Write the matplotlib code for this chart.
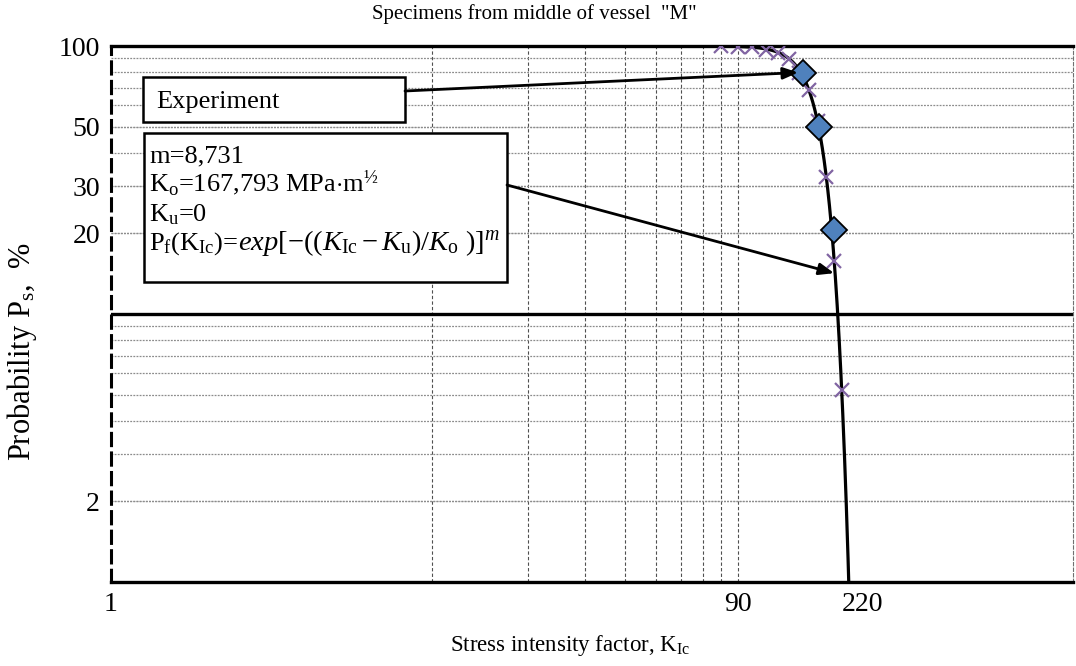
import matplotlib.pyplot as plt
import numpy as np
from matplotlib.patches import Rectangle
from matplotlib.ticker import NullFormatter

plt.rcParams['font.family'] = ['Liberation Serif', 'DejaVu Serif']
plt.rcParams['mathtext.fontset'] = 'custom'
plt.rcParams['mathtext.rm'] = 'Liberation Serif'
plt.rcParams['mathtext.it'] = 'Liberation Serif:italic'
plt.rcParams['mathtext.bf'] = 'Liberation Serif:bold'

# experiment points (median ranks)
k_exp = [144, 161, 180]
ps_exp = [79.4, 50.0, 20.6]

# points along the fitted distribution
k_pts = [80, 90, 100, 110, 120, 130, 140, 150, 160, 170, 180, 190]
ps_pts = [99.6, 99.3, 98.8, 97.0, 94.2, 89.2, 79.0, 68.5, 52.5, 32.4, 15.8, 5.2]

# Weibull parameters from the chart
m = 8.731
k0 = 167.793
ku = 0

x_ticks = [1, 90, 220]
y_ticks = [2, 20, 30, 50, 100]
x_grid = [10, 20, 30, 40, 50, 60, 70, 80, 90]
y_grid = [2, 3, 4, 5, 6, 7, 8, 9, 20, 30, 40, 50, 60, 70, 80, 90]

W, H = 1076, 666
fig = plt.figure(figsize=(W / 100, H / 100), dpi=100)
L, R, T, B = 111, 1073, 46, 582
ax = fig.add_axes([L / W, 1 - B / H, (R - L) / W, (B - T) / H])


def axfrac(px, py):
    return ((px - L) / (R - L), (B - py) / (B - T))


ax.set_xscale('log')
ax.set_yscale('log')
ax.set_xlim(1, 1000)
ax.set_ylim(1, 100)

ax.set_xticks(x_ticks, labels=[str(v) for v in x_ticks])
ax.set_yticks(y_ticks, labels=[str(v) for v in y_ticks])
ax.set_xticks(x_grid, minor=True)
ax.set_yticks(y_grid, minor=True)
ax.xaxis.set_minor_formatter(NullFormatter())
ax.yaxis.set_minor_formatter(NullFormatter())
ax.xaxis.remove_overlapping_locs = False
ax.yaxis.remove_overlapping_locs = False
ax.tick_params(which='both', length=0)
ax.tick_params(axis='x', labelsize=20, pad=7)
ax.tick_params(axis='y', labelsize=20, pad=8)

ax.grid(which='both', axis='y', color='#8c8c8c', linestyle=(0, (1.5, 1)), lw=0.9)
ax.grid(which='minor', axis='x', color='#505050', linestyle=(0, (3, 2)), lw=0.8)
ax.axhline(10, color='black', lw=2.4, zorder=2)

for s in ['top', 'bottom']:
    ax.spines[s].set_linewidth(2.4)
ax.spines['left'].set_linewidth(2.2)
ax.spines['left'].set_linestyle((0, (4, 2.4)))
ax.spines['right'].set_linewidth(0.8)
ax.spines['right'].set_color('#707070')
ax.spines['right'].set_linestyle((0, (3, 2)))

# fitted curve
kk = np.linspace(60, 215, 500)
ps_fit = 100 * np.exp(-((kk - ku) / k0) ** m)
ax.plot(kk, ps_fit, color='black', lw=2.3, zorder=3)

ax.plot(k_pts, ps_pts, linestyle='none', marker='x', ms=10, mew=1.6,
        color='#8064A2', zorder=4)
ax.plot(k_exp, ps_exp, linestyle='none', marker='D', ms=13, mew=1.3,
        mfc='#4F81BD', mec='black', zorder=5)

# annotation boxes
x0, y0 = axfrac(143, 122)
x1, y1 = axfrac(405, 77)
ax.add_patch(Rectangle((x0, y0), x1 - x0, y1 - y0, transform=ax.transAxes,
                       fc='white', ec='black', lw=1.8, zorder=6, clip_on=False))
tx, ty = axfrac(156, 102)
ax.text(tx, ty, 'Experiment', transform=ax.transAxes, fontsize=19,
        va='center', ha='left', zorder=7)

x0, y0 = axfrac(144, 282)
x1, y1 = axfrac(507, 133)
ax.add_patch(Rectangle((x0, y0), x1 - x0, y1 - y0, transform=ax.transAxes,
                       fc='white', ec='black', lw=1.8, zorder=6, clip_on=False))
lines = [
    'm=8,731',
    r'K$_\mathrm{o}$=167,793 MPa$\cdot$m$^{½}$',
    r'K$_\mathrm{u}$=0',
]
for txt, base in zip(lines, [162, 191, 221]):
    tx, ty = axfrac(149, base)
    ax.text(tx, ty, txt, transform=ax.transAxes, fontsize=19,
            va='baseline', ha='left', zorder=7)
tx, ty = axfrac(149, 250)
t1 = ax.text(tx, ty, r'P$_\mathrm{f}$(K$_\mathrm{Ic}$)=', transform=ax.transAxes,
             fontsize=19, va='baseline', ha='left', zorder=7)
fig.canvas.draw()
bb = t1.get_window_extent()
tx2 = ax.transAxes.inverted().transform((bb.x1, 0))[0]
ax.text(tx2, ty, r'$exp[-((K_\mathrm{Ic}-K_\mathrm{u})/K_\mathrm{o}\ )]^m$',
        transform=ax.transAxes, fontsize=20.5, va='baseline', ha='left', zorder=7)

# arrows from boxes to the curve
arrow = dict(arrowstyle='-|>,head_length=0.9,head_width=0.35', color='black',
             lw=2, shrinkA=0, shrinkB=0)
ax.annotate('', xy=(139, 79.6), xycoords='data',
            xytext=axfrac(405, 91), textcoords='axes fraction',
            arrowprops=arrow, zorder=8)
ax.annotate('', xy=(180, 14.2), xycoords='data',
            xytext=axfrac(507, 185), textcoords='axes fraction',
            arrowprops=arrow, zorder=8)

fig.text(534 / W, 1 - 14 / H, 'Specimens from middle of vessel  "M"',
         fontsize=15, ha='center', va='center')
fig.text(570 / W, 1 - 646 / H, r'Stress intensity factor, K$_\mathrm{Ic}$',
         fontsize=16.5, ha='center', va='center')
fig.text(22 / W, 1 - 352 / H, r'Probability P$_\mathrm{s}$,  %',
         fontsize=22, ha='center', va='center', rotation=90)

fig.savefig('out.png', dpi=100)
